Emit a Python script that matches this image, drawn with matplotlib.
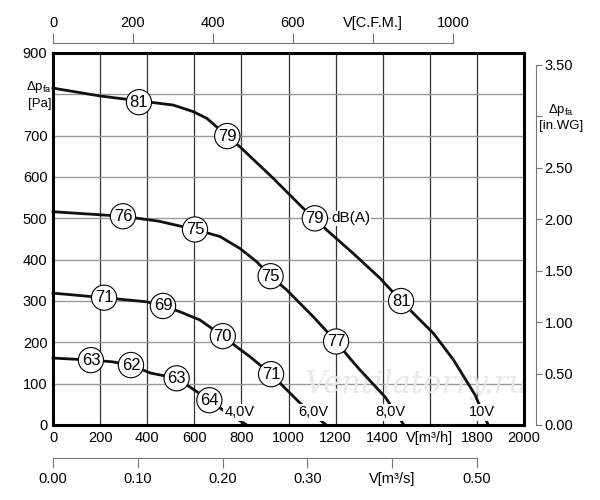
import numpy as np
import matplotlib.pyplot as plt

plt.rcParams['font.family'] = ['Liberation Sans', 'DejaVu Sans']
plt.rcParams['mathtext.fontset'] = 'custom'
plt.rcParams['mathtext.rm'] = 'Liberation Sans'

# fan curves, flow in m3/h vs static pressure in Pa
q_10v = [0, 200, 426, 511, 596, 653, 740, 794, 935, 1063, 1112, 1162, 1275, 1389, 1478, 1615, 1700, 1792, 1848]
p_10v = [815, 796, 780, 774, 758, 742, 699, 673, 597, 524, 500, 472, 415, 355, 300, 222, 158, 73, 0]
q_8v = [0, 297, 450, 603, 709, 794, 865, 924, 992, 1105, 1202, 1261, 1304, 1410, 1490]
p_8v = [516, 505, 493, 473, 456, 427, 395, 360, 327, 262, 202, 161, 133, 68, 0]
q_6v = [0, 217, 399, 467, 539, 624, 721, 780, 837, 926, 1049, 1160]
p_6v = [319, 308, 298, 288, 274, 254, 215, 189, 165, 123, 53, 0]
q_4v = [0, 161, 250, 331, 412, 525, 589, 664, 722, 823]
p_4v = [162, 157, 153, 145, 126, 113, 89, 60, 36, 0]

# noise labels (dB(A)) on the curves
noise_q = [365, 740, 1112, 1478, 297, 603, 924, 1202, 217, 467, 721, 926, 161, 331, 525, 664]
noise_p = [781, 699, 500, 300, 505, 473, 360, 202, 308, 288, 215, 123, 157, 145, 113, 60]
noise_txt = ['81', '79', '79', '81', '76', '75', '75', '77', '71', '69', '70', '71', '63', '62', '63', '64']

volt_q = [794, 1104, 1431, 1822]
volt_p = [31, 31, 31, 31]
volt_txt = ['4,0V', '6,0V', '8,0V', '10V']

x_ticks = [0, 200, 400, 600, 800, 1000, 1200, 1400, 1600, 1800, 2000]
x_labels = ['0', '200', '400', '600', '800', '1000', '1200', '1400', 'V[m³/h]', '1800', '2000']
y_ticks = [0, 100, 200, 300, 400, 500, 600, 700, 800, 900]
y_labels = ['0', '100', '200', '300', '400', '500', '600', '700', '', '900']

cfm_ticks = [0, 200, 400, 600, 800, 1000]
cfm_labels = ['0', '200', '400', '600', 'V[C.F.M.]', '1000']
wg_ticks = [0, 0.5, 1.0, 1.5, 2.0, 2.5, 3.0, 3.5]
wg_labels = ['0.00', '0.50', '1.00', '1.50', '2.00', '2.50', '', '3.50']
m3s_ticks = [0, 0.1, 0.2, 0.3, 0.4, 0.5]
m3s_labels = ['0.00', '0.10', '0.20', '0.30', 'V[m³/s]', '0.50']

W, H = 600, 500
fig = plt.figure(figsize=(6, 5), dpi=100)
L, R, T, B = 53, 524, 53, 425
ax = fig.add_axes([L / W, 1 - B / H, (R - L) / W, (B - T) / H])
ax.set_xlim(0, 2000)
ax.set_ylim(0, 900)
ax.set_xticks(x_ticks)
ax.set_xticklabels(x_labels)
ax.set_yticks(y_ticks)
ax.set_yticklabels(y_labels)
ax.tick_params(length=0, labelsize=10.5, pad=4)
for s in ax.spines.values():
    s.set_linewidth(2.2)
    s.set_zorder(6)
for x in x_ticks[1:-1]:
    ax.axvline(x, color='#333333', lw=0.9, zorder=1)
for y in y_ticks[1:-1]:
    ax.axhline(y, color='#999999', lw=1.0, zorder=1)

ax.text(-5, 800, 'Δp$_\\mathregular{fa}$\n[Pa]', ha='right', va='center', fontsize=9.5, linespacing=1.3)

# watermark
ax.text(1545, 97, 'Ventilatorry.ru', fontsize=22, style='italic', family='DejaVu Serif',
        color='#e9e9e9', ha='center', va='center', zorder=2)

for q, p in [(q_10v, p_10v), (q_8v, p_8v), (q_6v, p_6v), (q_4v, p_4v)]:
    ax.plot(q, p, color='#111111', lw=2, zorder=3, clip_on=False, solid_joinstyle='round')

for q, p, t in zip(noise_q, noise_p, noise_txt):
    ax.text(q, p, t, ha='center', va='center', fontsize=12, zorder=5,
            bbox=dict(boxstyle='circle,pad=0.2', fc='white', ec='black', lw=0.8))
ax.text(1183, 500, 'dB(A)', ha='left', va='center', fontsize=11, zorder=5,
        bbox=dict(fc='white', ec='none', pad=0.5))

for q, p, t in zip(volt_q, volt_p, volt_txt):
    ax.text(q, p, t, ha='center', va='center', fontsize=10.5, zorder=5,
            bbox=dict(fc='white', ec='none', pad=1))

# top axis, C.F.M.
axt = fig.add_axes([L / W, 1 - 43 / H, (R - L) / W, 0.0001])
axt.set_xlim(0, 2000 * 0.5886)
axt.patch.set_visible(False)
for k in ['left', 'right', 'bottom']:
    axt.spines[k].set_visible(False)
axt.spines['top'].set_color('#777777')
axt.spines['top'].set_bounds(0, 1000)
axt.xaxis.tick_top()
axt.set_xticks(cfm_ticks)
axt.set_xticklabels(cfm_labels)
axt.set_yticks([])
axt.tick_params(axis='x', direction='out', length=7, color='#777777', labelsize=10.5, pad=2)

# right axis, in.WG
axr = fig.add_axes([536 / W, 1 - B / H, 0.0001, (B - T) / H])
axr.set_ylim(0, 900 / 249.09)
axr.patch.set_visible(False)
for k in ['left', 'top', 'bottom']:
    axr.spines[k].set_visible(False)
axr.spines['right'].set_color('#777777')
axr.spines['right'].set_bounds(0, 3.5)
axr.yaxis.tick_right()
axr.set_yticks(wg_ticks)
axr.set_yticklabels(wg_labels)
axr.set_xticks([])
axr.tick_params(axis='y', direction='out', length=4, color='#777777', labelsize=10.5, pad=2)
fig.text(561 / W, 1 - 117 / H, 'Δp$_\\mathregular{fa}$\n[in.WG]', fontsize=9.5,
         ha='center', va='center', linespacing=1.3)

# bottom axis, m3/s
axb = fig.add_axes([L / W, 1 - 458 / H, (R - L) / W, 0.0001])
axb.set_xlim(0, 2000 / 3600)
axb.patch.set_visible(False)
for k in ['left', 'right', 'top']:
    axb.spines[k].set_visible(False)
axb.spines['bottom'].set_color('#777777')
axb.spines['bottom'].set_bounds(0, 0.5)
axb.set_xticks(m3s_ticks)
axb.set_xticklabels(m3s_labels)
axb.set_yticks([])
axb.tick_params(axis='x', direction='out', length=7, color='#777777', labelsize=10.5, pad=3)

fig.savefig('out.png', dpi=100)
